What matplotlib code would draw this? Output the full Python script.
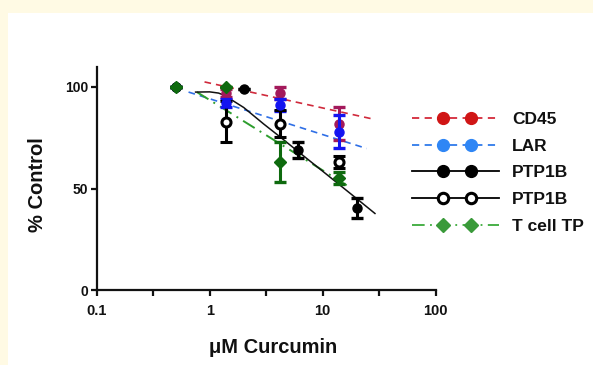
import numpy as np
import matplotlib
matplotlib.use("Agg")
import matplotlib.pyplot as plt
from matplotlib.lines import Line2D
from matplotlib.patches import Rectangle
from matplotlib.legend_handler import HandlerLine2D

# ---------------- data ----------------
cd45_x = [0.5, 1.4, 4.2, 14]
cd45_y = [100, 97, 97, 82]
cd45_err = [0, 2, 3, 8]

lar_x = [0.5, 1.4, 4.2, 14]
lar_y = [100, 92, 91, 78]
lar_err = [0, 2, 3, 8]

ptp_x = [0.5, 2, 6, 20]
ptp_y = [100, 99, 68.8, 40.3]
ptp_err = [0, 0, 4, 5]

ptp_open_x = [1.4, 4.2, 14]
ptp_open_y = [83, 82, 63]
ptp_open_err = [10, 6.5, 3]

tcell_x = [0.5, 1.4, 4.2, 14]
tcell_y = [100, 100, 63, 55]
tcell_err = [0, 0, 10, 3]

# fitted curves
cd45_fit_x = [0.9, 29]
cd45_fit_y = [102.5, 84]
lar_fit_x = [0.65, 24.5]
lar_fit_y = [97.5, 69.7]
tcell_fit_x = [0.77, 16.3]
tcell_fit_y = [97.5, 51.6]
ptp_fit_x = [0.75, 1.0, 1.2, 1.4, 1.6, 2.0, 3.0, 4.2, 6, 10, 20, 29]
ptp_fit_y = [97.5, 97.6, 97, 95.5, 93.3, 89.9, 81.8, 75.4, 68.4, 58.5, 45, 37.7]

legend_labels = ["CD45", "LAR", "PTP1B", "PTP1B", "T cell TP"]
x_ticks = [0.1, 1, 10, 100]
x_ticklabels = ["0.1", "1", "10", "100"]
y_ticks = [0, 50, 100]

# ---------------- figure ----------------
W, H = 593, 365
fig = plt.figure(figsize=(W / 100, H / 100), dpi=100, facecolor="white")
cream = "#FFFAE4"
fig.patches.append(Rectangle((0, 1 - 13 / H), 1, 13 / H, transform=fig.transFigure,
                             facecolor=cream, edgecolor="none", zorder=-10))
fig.patches.append(Rectangle((0, 0), 8 / W, 1, transform=fig.transFigure,
                             facecolor=cream, edgecolor="none", zorder=-10))

left, right = 96.7 / W, 435.7 / W
bottom, top = 1 - 290 / H, 1 - 66.7 / H
ax = fig.add_axes([left, bottom, right - left, top - bottom])
ax.set_facecolor("none")
ax.set_xscale("log")
ax.set_xlim(0.1, 100)
ax.set_ylim(0, 110)

for s in ["top", "right"]:
    ax.spines[s].set_visible(False)
for s in ["left", "bottom"]:
    ax.spines[s].set_linewidth(1.6)
    ax.spines[s].set_color("#111111")

# fit lines
ax.plot(cd45_fit_x, cd45_fit_y, ls=(0, (4, 3)), color="#D02A3C", lw=1.2, zorder=2)
ax.plot(lar_fit_x, lar_fit_y, ls=(0, (4, 3)), color="#2F6FE6", lw=1.2, zorder=2)
ax.plot(tcell_fit_x, tcell_fit_y, ls=(0, (7, 3, 1, 3)), color="#2E9E2E", lw=1.4, zorder=2)
ax.plot(ptp_fit_x, ptp_fit_y, ls="-", color="#111111", lw=1.1, zorder=2)

eb = dict(ls="none", elinewidth=2.2, capsize=4.5, capthick=2.4, ms=6.5)
ax.errorbar(cd45_x, cd45_y, yerr=cd45_err, marker="o", color="#A3195B",
            mec="#A3195B", zorder=3, **eb)
ax.errorbar(lar_x, lar_y, yerr=lar_err, marker="o", color="#1414F0",
            mec="#1414F0", zorder=4, **eb)
ax.errorbar(ptp_x, ptp_y, yerr=ptp_err, marker="o", color="black",
            mec="black", zorder=4, **eb)
ax.errorbar(ptp_open_x, ptp_open_y, yerr=ptp_open_err, marker="o", color="black",
            mfc="white", mec="black", mew=2.2, zorder=4, **eb)
ax.errorbar(tcell_x, tcell_y, yerr=tcell_err, marker="D", color="#0E6A0E",
            mec="#0E6A0E", zorder=5, ls="none", elinewidth=2.2, capsize=4.5,
            capthick=2.4, ms=6.5)

# ticks
ax.set_xticks(x_ticks)
ax.set_xticklabels(x_ticklabels)
ax.set_xticks([0.316, 3.16, 31.6], minor=True)
ax.tick_params(axis="x", which="both", length=4, width=1.6, direction="out",
               color="#111111", pad=6)
ax.xaxis.set_minor_formatter(plt.NullFormatter())
ax.set_yticks(y_ticks)
ax.tick_params(axis="y", which="major", length=4, width=1.6, direction="out",
               color="#111111", pad=2)
ax.tick_params(axis="y", which="minor", length=0)
for lab in ax.get_yticklabels():
    lab.set_fontfamily("Liberation Sans")
    lab.set_fontweight("bold")
    lab.set_fontsize(10)
    lab.set_color("#111111")
for lab in ax.get_xticklabels():
    lab.set_fontfamily("Liberation Sans")
    lab.set_fontweight("bold")
    lab.set_fontsize(10.5)
    lab.set_color("#111111")

ax.set_xlabel("\u03bcM Curcumin", fontfamily="Liberation Sans", fontweight="bold",
              fontsize=14.5, color="#111111")
ax.xaxis.set_label_coords((273 - 96.7) / 339, (290 - 338) / 223.3)
ax.set_ylabel("% Control", fontfamily="Liberation Sans", fontweight="bold",
              fontsize=14.5, color="#111111")
ax.yaxis.set_label_coords((47 - 96.7) / 339, (290 - 185) / 223.3)


# legend: line with two markers placed inside it
class TwoMarkHandler(HandlerLine2D):
    def create_artists(self, legend, orig_handle, xdescent, ydescent,
                       width, height, fontsize, trans):
        x0 = -xdescent
        xdata = np.array([x0, x0 + width * 0.36, x0 + width * 0.68, x0 + width])
        ydata = np.full_like(xdata, (height - ydescent) / 2)
        legline = Line2D(xdata, ydata, markevery=[1, 2])
        self.update_prop(legline, orig_handle, legend)
        legline.set_transform(trans)
        return [legline]


handles = [
    Line2D([], [], ls=(0, (4, 3)), color="#D42A3A", lw=1.3, marker="o",
           mfc="#D01515", mec="#D01515", ms=8.5),
    Line2D([], [], ls=(0, (4, 3)), color="#2F7BEA", lw=1.3, marker="o",
           mfc="#2F86F5", mec="#2F86F5", ms=8.5),
    Line2D([], [], ls="-", color="black", lw=1.3, marker="o",
           mfc="black", mec="black", ms=8.5),
    Line2D([], [], ls="-", color="black", lw=1.3, marker="o",
           mfc="white", mec="black", mew=2.2, ms=7.5),
    Line2D([], [], ls=(0, (7, 3, 1, 3)), color="#3AAA3A", lw=1.3, marker="D",
           mfc="#3A9A3A", mec="#3A9A3A", ms=7.5),
]
leg = fig.legend(handles, legend_labels, loc="upper left",
                 bbox_to_anchor=(412 / W, 1 - 112 / H), frameon=False,
                 handlelength=5.0, handletextpad=0.75, labelspacing=0.66,
                 borderpad=0, borderaxespad=0,
                 handler_map={Line2D: TwoMarkHandler()},
                 prop=dict(family="Liberation Sans", weight="bold", size=12.5))
for t in leg.get_texts():
    t.set_color("#111111")

fig.savefig("out.png", dpi=100, facecolor="white")
